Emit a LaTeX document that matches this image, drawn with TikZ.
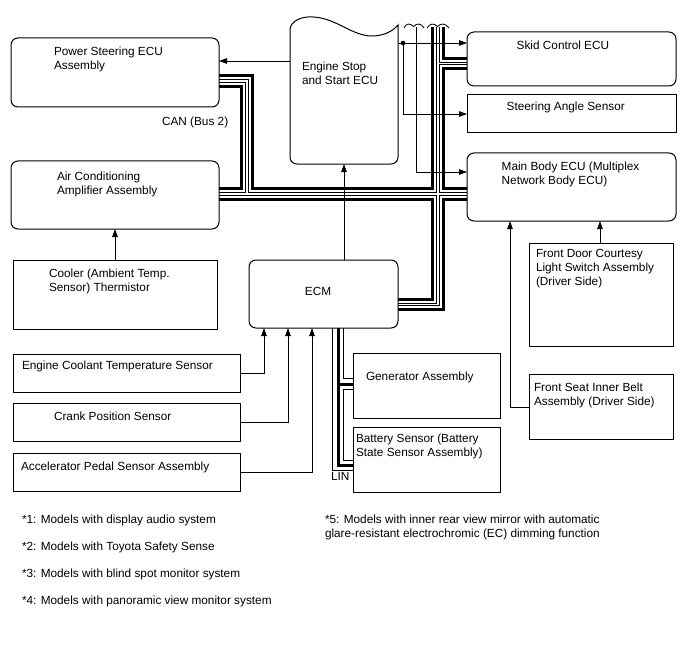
\documentclass[tikz,border=0pt]{standalone}
\usepackage{fontspec}
\setmainfont{Liberation Sans}
\usetikzlibrary{arrows.meta,backgrounds}
\begin{document}
\begin{tikzpicture}[x=1pt,y=-1pt,
  box/.style={draw, line width=1pt, inner sep=0pt, outer sep=0pt, anchor=north west},
  rbox/.style={box, rounded corners=7pt},
  txt/.style={anchor=north west, inner sep=0pt, outer sep=0pt, align=left, font=\fontsize{11.8}{14}\selectfont},
  sig/.style={line width=0.85pt},
  arr/.style={sig, -{Triangle[length=8pt,width=5.5pt]}}]
\useasboundingbox (0,0) rectangle (688,658);

% boxes
\node[rbox, minimum width=208pt, minimum height=69pt] (ps) at (11,38) {};
\node[rbox, minimum width=208pt, minimum height=68pt] (ac) at (11,161) {};
\node[box, minimum width=204pt, minimum height=69pt] (cool) at (13,260) {};
\node[box, minimum width=227pt, minimum height=38pt] (ects) at (13,354) {};
\node[box, minimum width=227pt, minimum height=38pt] (crank) at (13,403) {};
\node[box, minimum width=227pt, minimum height=38pt] (accel) at (13,453) {};
\node[rbox, minimum width=149pt, minimum height=68pt] (ecm) at (249,260) {};
\node[inner sep=0pt, outer sep=0pt, anchor=north west, minimum width=108pt, minimum height=139pt] (es) at (290,25) {};
\node[rbox, minimum width=209pt, minimum height=54pt] (skid) at (467,32) {};
\node[box, minimum width=209pt, minimum height=38pt] (sas) at (467,95) {};
\node[rbox, minimum width=209pt, minimum height=68pt] (mb) at (467,153) {};
\node[box, minimum width=144pt, minimum height=103pt] (fd) at (529,243) {};
\node[box, minimum width=144pt, minimum height=65pt] (fs) at (529,374) {};
\node[box, minimum width=147pt, minimum height=65pt] (gen) at (353,353) {};
\node[box, minimum width=147pt, minimum height=65pt] (bat) at (353,427) {};

% Engine Stop and Start ECU outline (torn top)
\draw[line width=1pt] (290,30) -- (290,157) .. controls (290,161) and (293,164) .. (297,164)
  -- (391,164) .. controls (395,164) and (398,161) .. (398,157) -- (398,25)
  .. controls (394,30) and (385,36) .. (372,36)
  .. controls (352,36) and (336,18) .. (313,17)
  .. controls (302,16) and (290,21) .. (290,30) -- cycle;

% texts
\node[txt] (ps-t) at (54,46.6) {Power Steering ECU\\Assembly};
\node[txt] (ac-t) at (57,171.6) {Air Conditioning\\Amplifier Assembly};
\node[txt] (cool-t) at (49,268.6) {Cooler (Ambient Temp.\\Sensor) Thermistor};
\node[txt] (ects-t) at (22,360.6) {Engine Coolant Temperature Sensor};
\node[txt] (crank-t) at (54,411.6) {Crank Position Sensor};
\node[txt] (accel-t) at (21,461.6) {Accelerator Pedal Sensor Assembly};
\node[inner sep=0pt, font=\fontsize{11.8}{14}\selectfont] (ecm-t) at (318,291) {ECM};
\node[txt] (es-t) at (302,61.6) {Engine Stop\\and Start ECU};
\node[txt] (skid-t) at (516.7,40.6) {Skid Control ECU};
\node[txt] (sas-t) at (506.7,101.6) {Steering Angle Sensor};
\node[txt] (mb-t) at (501.7,161.6) {Main Body ECU (Multiplex\\Network Body ECU)};
\node[txt] (fd-t) at (536,249.6) {Front Door Courtesy\\Light Switch Assembly\\(Driver Side)};
\node[txt] (fs-t) at (534,382.6) {Front Seat Inner Belt\\Assembly (Driver Side)};
\node[txt] (gen-t) at (366,371.6) {Generator Assembly};
\node[txt] (bat-t) at (356,433.6) {Battery Sensor (Battery\\State Sensor Assembly)};
\node[txt] (can-t) at (162,116.6) {CAN (Bus 2)};
\node[txt] (lin-t) at (331,472.6) {LIN};
\node[txt] (n1) at (22,514.6) {*1: Models with display audio system};
\node[txt] (n2) at (22,541.6) {*2: Models with Toyota Safety Sense};
\node[txt] (n3) at (22,568.6) {*3: Models with blind spot monitor system};
\node[txt] (n4) at (22,595.6) {*4: Models with panoramic view monitor system};
\node[txt] (n5) at (325,514.6) {*5: Models with inner rear view mirror with automatic\\glare-resistant electrochromic (EC) dimming function};

% buses (background)
\begin{pgfonlayer}{background}
\foreach \w/\c in {13.2/black, 7.8/white, 3.6/black, 1.5/white} {
  \draw[line width=\w pt, draw=\c, line join=miter] (ps.east |- 0,81) -- (247,81) -- (247,194);
  \draw[line width=\w pt, draw=\c, line join=miter] (ac.east |- 0,194) -- (mb.west |- 0,194);
  \draw[line width=\w pt, draw=\c, line join=miter] (438,27) -- (438,304.5) -- (ecm.east |- 0,304.5);
  \draw[line width=\w pt, draw=\c, line join=miter] (438,63.5) -- (skid.west |- 0,63.5);
}
\foreach \w/\c in {11.6/black, 9.6/white, 3/black} {
  \draw[line width=\w pt, draw=\c, line join=miter] (ecm.south -| 338,0) -- (338,465.5) -- (bat.west |- 0,465.5);
  \draw[line width=\w pt, draw=\c, line join=miter] (338,384) -- (gen.west |- 0,384);
}
\end{pgfonlayer}

% signal connectors
\coordinate (dot) at (403,43);
\coordinate (brk) at (416,27);
\draw[arr] (es.west |- 0,61) -- (ps.east |- 0,61);
\draw[arr] (ecm.north -| 344,0) -- (es.south -| 344,0);
\draw[arr] (cool.north -| 115,0) -- (ac.south -| 115,0);
\draw[arr] (ects.east |- 0,373) -| (ecm.south -| 264,0);
\draw[arr] (crank.east |- 0,422) -| (ecm.south -| 288,0);
\draw[arr] (accel.east |- 0,472) -| (ecm.south -| 312,0);
\draw[arr] (es.east |- dot) -- (skid.west |- dot);
\draw[arr] (dot) |- (sas.west |- 0,114);
\draw[arr] (brk) |- (mb.west |- 0,172);
\draw[arr] (fd.north -| 600,0) -- (mb.south -| 600,0);
\draw[arr] (fs.west |- 0,407) -| (mb.south -| 510,0);
\fill (dot) circle (2.3pt);

% break marks
\draw[sig] (404,28) .. controls (406,23) and (410,23) .. (413.5,26.5) .. controls (417,23) and (421,23) .. (424,28);
\draw[sig] (427,28) .. controls (430,23) and (434,23) .. (437.5,26.5) .. controls (441,23) and (445,23) .. (449,28);
\end{tikzpicture}
\end{document}
